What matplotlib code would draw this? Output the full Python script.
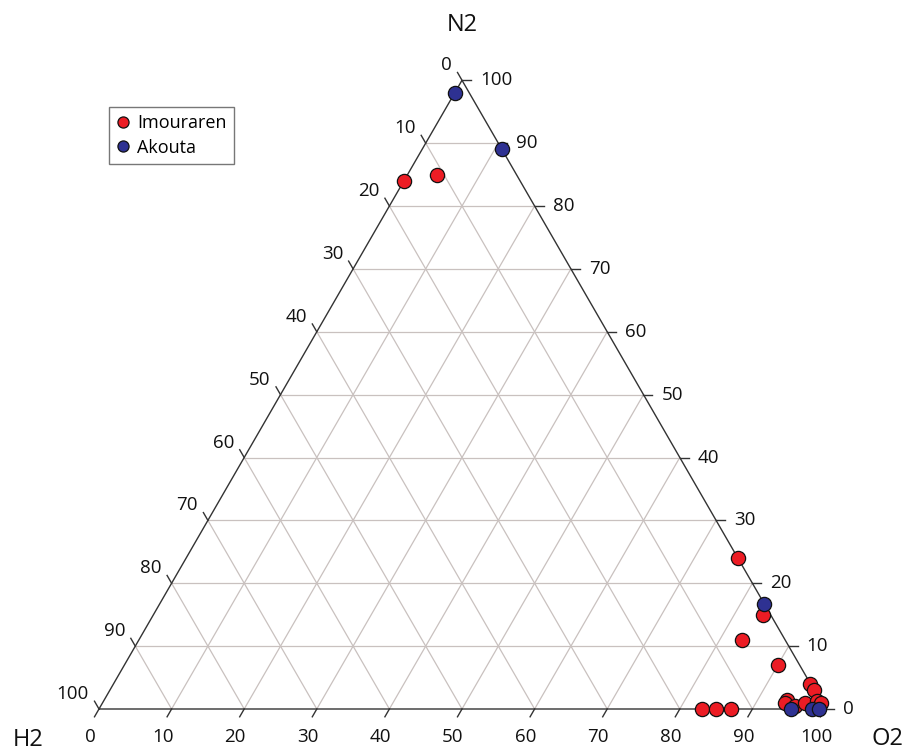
import numpy as np
import matplotlib
matplotlib.use("Agg")
import matplotlib.pyplot as plt
from matplotlib.lines import Line2D

plt.rcParams['font.family'] = ['Open Sans', 'DejaVu Sans']

# ---- data (percent) ----
imouraren_o2 = [0, 4, 76, 84, 83, 90, 96, 97, 83, 85, 87, 94, 94, 95.7, 96.8, 98.3, 99]
imouraren_n2 = [84, 85, 24, 15, 11, 7, 4, 3, 0, 0, 0, 1.5, 1, 0.4, 0.9, 1.2, 1]
imouraren_h2 = [16, 11, 0, 1, 6, 3, 0, 0, 17, 15, 13, 4.5, 5, 3.9, 2.3, 0.5, 0]

akouta_o2 = [0, 11, 83.3, 95.3, 98.2, 99.2]
akouta_n2 = [98, 89, 16.7, 0, 0, 0]
akouta_h2 = [2, 0, 0, 4.7, 1.8, 0.8]

tick_values = [0, 10, 20, 30, 40, 50, 60, 70, 80, 90, 100]
axis_names = ["O2", "N2", "H2"]

S3 = np.sqrt(3) / 2


def to_xy(o2, n2, h2):
    o2 = np.asarray(o2, float); n2 = np.asarray(n2, float); h2 = np.asarray(h2, float)
    tot = o2 + n2 + h2
    a = o2 / tot; b = n2 / tot
    return a + b / 2, b * S3


W = 902; H = 753
fig = plt.figure(figsize=(W / 100, H / 100), dpi=100)
ax = fig.add_axes([0, 0, 1, 1])
PX = 1 / 726.0
ax.set_xlim(-99 * PX, (W - 99) * PX)
ax.set_ylim(-(H - 709) * PX, 709 * PX)
ax.set_aspect('equal')
ax.axis('off')

grid_c = '#C9C1BF'
edge_c = '#333333'
txt_c = '#111111'
TFS = 13.5

# grid lines
for v in tick_values[1:-1]:
    f = v / 100
    x, y = to_xy([0, 1 - f], [f, f], [1 - f, 0])
    ax.plot(x, y, color=grid_c, lw=0.9, zorder=1)
    x, y = to_xy([f, f], [0, 1 - f], [1 - f, 0])
    ax.plot(x, y, color=grid_c, lw=0.9, zorder=1)
    x, y = to_xy([1 - f, 0], [0, 1 - f], [f, f])
    ax.plot(x, y, color=grid_c, lw=0.9, zorder=1)

# triangle edges
x, y = to_xy([0, 1, 0, 0], [0, 0, 1, 0], [1, 0, 0, 1])
ax.plot(x, y, color=edge_c, lw=1.0, zorder=2, solid_joinstyle='miter')

TL = 9 * PX
for v in tick_values:
    f = v / 100
    # bottom axis (O2)
    bx, by = to_xy([f], [0], [1 - f])
    bx, by = bx[0], by[0]
    ax.plot([bx, bx - 0.5 * TL], [by, by - S3 * TL], color=edge_c, lw=1.0, zorder=2)
    ax.text(bx - 9 * PX, by - 28 * PX, str(v), ha='center', va='center', fontsize=TFS, color=txt_c)
    # right axis (N2)
    rx, ry = to_xy([1 - f], [f], [0])
    rx, ry = rx[0], ry[0]
    ax.plot([rx, rx + TL], [ry, ry], color=edge_c, lw=1.0, zorder=2)
    ax.text(rx + 18 * PX, ry, str(v), ha='left', va='center', fontsize=TFS, color=txt_c)
    # left axis (H2)
    lx, ly = to_xy([0], [1 - f], [f])
    lx, ly = lx[0], ly[0]
    ax.plot([lx, lx - 0.5 * TL], [ly, ly + S3 * TL], color=edge_c, lw=1.0, zorder=2)
    ax.text(lx - 10 * PX, ly + 15 * PX, str(v), ha='right', va='center', fontsize=TFS, color=txt_c)

# axis names
ax.text((887 - 99) * PX, (709 - 739) * PX, axis_names[0], ha='center', va='center', fontsize=17, color=txt_c)
ax.text((462 - 99) * PX, (709 - 25) * PX, axis_names[1], ha='center', va='center', fontsize=17, color=txt_c)
ax.text((28 - 99) * PX, (709 - 740) * PX, axis_names[2], ha='center', va='center', fontsize=17, color=txt_c)

red = '#EC1C24'
blue = '#2E3192'
x, y = to_xy(imouraren_o2, imouraren_n2, imouraren_h2)
ax.scatter(x, y, s=105, c=red, edgecolors='#111111', linewidths=0.9, zorder=4, clip_on=False)
x, y = to_xy(akouta_o2, akouta_n2, akouta_h2)
ax.scatter(x, y, s=105, c=blue, edgecolors='#111111', linewidths=0.9, zorder=5, clip_on=False)

handles = [
    Line2D([], [], marker='o', ls='none', markersize=8, markerfacecolor=red, markeredgecolor='#111111', markeredgewidth=0.9),
    Line2D([], [], marker='o', ls='none', markersize=8, markerfacecolor=blue, markeredgecolor='#111111', markeredgewidth=0.9),
]
leg = fig.legend(handles, ['Imouraren', 'Akouta'], loc='upper left',
                 bbox_to_anchor=(109 / W, 1 - 107 / H), frameon=True, fancybox=False,
                 edgecolor='#555555', fontsize=13, handletextpad=0.35, handlelength=0.8,
                 borderpad=0.4, labelspacing=0.35, borderaxespad=0)
leg.get_frame().set_linewidth(1.0)

fig.savefig('out.png', dpi=100)
